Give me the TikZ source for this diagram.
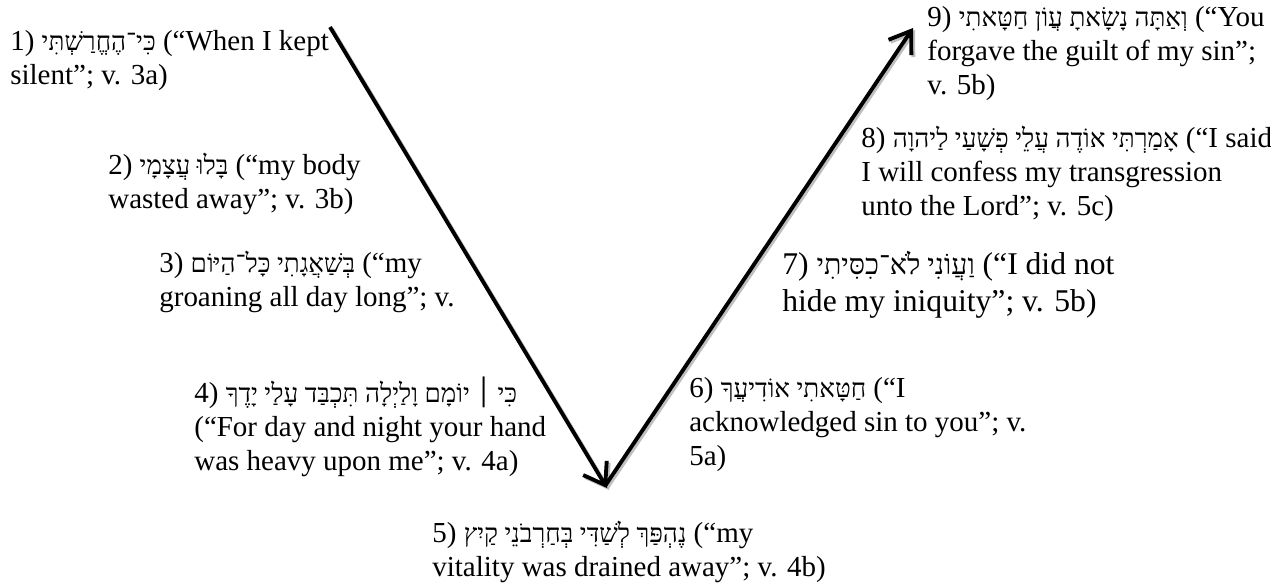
\documentclass[tikz,border=0pt]{standalone}
\usepackage{fontspec}
\setmainfont{Liberation Serif}
\newfontfamily\hebfont[Script=Hebrew, Scale=0.9]{Liberation Serif}
\TeXXeTstate=1
\usetikzlibrary{arrows.meta}

\newcommand{\heb}[1]{{\hebfont\beginR #1\endR}}

\tikzset{
  verse/.style={font=\fontsize{16.5}{19.3}\selectfont, align=left, inner sep=0pt, anchor=north west},
  bigverse/.style={verse, font=\fontsize{18}{21}\selectfont},
  vline/.style={line width=2.2pt, -{Straight Barb[length=4mm,width=5.5mm]}},
  vshadow/.style={vline, black!25},
}

\begin{document}
\begin{tikzpicture}[x=0.02cm, y=-0.02cm]
\useasboundingbox (0,0) rectangle (1271,586);

% Turning points
\coordinate (start) at (330,27);
\coordinate (trough) at (607,488);
\coordinate (rise) at (605,486);
\coordinate (peak) at (913,28);

% Shadow
\draw[vshadow] ([shift={(2,2)}]start) -- ([shift={(2,2)}]trough);
\draw[vshadow] ([shift={(2,2)}]rise) -- ([shift={(2,2)}]peak);

% Arrows
\draw[vline] (start) -- (trough);
\draw[vline] (rise) -- (peak);

% Going down
\node[verse] (v3a) at (10,30) {1) \heb{כִּי־הֶחֱרַשְׁתִּי} (“When I kept\\silent”; v. 3a)};
\node[verse] (v3b) at (108,153) {2) \heb{בָּלוּ עֲצָמָי} (“my body\\wasted away”; v. 3b)};
\node[verse] (v3c) at (159,251) {3) \heb{בְּשַׁאֲגָתִי כָּל־הַיּוֹם} (“my\\groaning all day long”; v.};
\node[verse] (v4a) at (194,377) {4) \heb{כִּי ׀ יוֹמָם וָלַיְלָה תִּכְבַּד עָלַי יָדֶךָ}\\(“For day and night your hand\\was heavy upon me”; v. 4a)};

% Bottom
\node[verse] (v4b) at (432,521) {5) \heb{נֶהְפַּךְ לְשַׁדִּי בְּחַרְבֹנֵי קַיִץ} (“my\\vitality was drained away”; v. 4b)};

% Coming up
\node[verse] (v5a) at (689,377) {6) \heb{חַטָּאתִי אוֹדִיעֲךָ} (“I\\acknowledged sin to you”; v.\\5a)};
\node[bigverse] (v5b) at (782,251) {7) \heb{וַעֲוֹנִי לֹא־כִסִּיתִי} (“I did not\\hide my iniquity”; v. 5b)};
\node[verse] (v5c) at (861,126) {8) \heb{אָמַרְתִּי אוֹדֶה עֲלֵי פְשָׁעַי לַיהוָה} (“I said\\I will confess my transgression\\unto the Lord”; v. 5c)};
\node[verse] (v5d) at (927,6) {9) \heb{וְאַתָּה נָשָׂאתָ עֲוֹן חַטָּאתִי} (“You\\forgave the guilt of my sin”;\\v. 5b)};

\end{tikzpicture}
\end{document}
